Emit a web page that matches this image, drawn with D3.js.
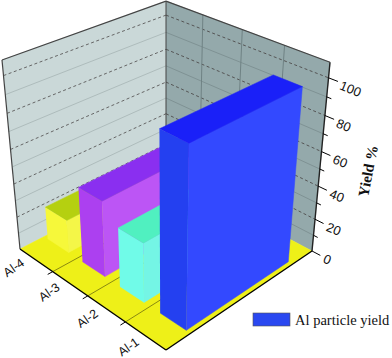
<!DOCTYPE html>
<html>
<head>
<meta charset="utf-8">
<script src="https://cdn.jsdelivr.net/npm/d3@7"></script>
<style>
html, body { margin: 0; padding: 0; background: #fff; }
svg { display: block; }
</style>
</head>
<body>
<div id="chart"></div>
<script>
var categories = ["Al-1", "Al-2", "Al-3", "Al-4"];
var yieldValues = [100, 35, 45, 20];
var zMajorTicks = [0, 20, 40, 60, 80, 100];
var zMinorTicks = [10, 30, 50, 70, 90];
var depthTicks = [0.25, 0.5, 0.75];
var legendLabel = "Al particle yield";
var zTitle = "Yield %";

var barColors = {
    "Al-1": { left: "#2440f0", right: "#3349ff", top: "#1a20f8" },
    "Al-2": { left: "#70fbe8", right: "#74f5e5", top: "#50f0c0" },
    "Al-3": { left: "#ac40f0", right: "#bc55f5", top: "#8a2ff0" },
    "Al-4": { left: "#f6f83a", right: "#f4f648", top: "#b5d010" }
};

var w = 392;
var h = 358;
var svg = d3.select("#chart").append("svg").attr("width", w).attr("height", h);

// projection of the unit box (a = along categories, b = depth, z = up)
var pw = 0.154;
var front = [166, 350];
var aEnd = [20, 249];
var bEnd = [312, 251];
var wz = -0.1267;
var zVec = [-21.03, -225.7];
function project(a, b, z) {
    var d = 1 + pw * a + pw * b + wz * z;
    var px = front[0] + (aEnd[0] * (1 + pw) - front[0]) * a + (bEnd[0] * (1 + pw) - front[0]) * b + zVec[0] * z;
    var py = front[1] + (aEnd[1] * (1 + pw) - front[1]) * a + (bEnd[1] * (1 + pw) - front[1]) * b + zVec[1] * z;
    return [px / d, py / d];
}

var aScale = d3.scaleBand().domain(categories).range([0, 1]).paddingInner(0.39).paddingOuter(0.1);
var zScale = d3.scaleLinear().domain([0, 108]).range([0, 1]);
var barDepth = [0.15, 0.85];

function poly(points, fill, stroke) {
    svg.append("path")
        .attr("d", d3.line()(points))
        .attr("fill", fill)
        .attr("stroke", stroke || fill)
        .attr("stroke-width", stroke ? 1.2 : 0.5)
        .attr("stroke-linejoin", "round");
}
function seg(p, q, color, width, dash) {
    svg.append("line")
        .attr("x1", p[0]).attr("y1", p[1])
        .attr("x2", q[0]).attr("y2", q[1])
        .attr("stroke", color)
        .attr("stroke-width", width)
        .attr("stroke-dasharray", dash || null);
}

/** walls and floor */
poly([project(1, 0, 0), project(1, 1, 0), project(1, 1, 1), project(1, 0, 1)], "#cad8d8");
poly([project(1, 1, 0), project(0, 1, 0), project(0, 1, 1), project(1, 1, 1)], "#94a9ab");
poly([project(0, 0, 0), project(1, 0, 0), project(1, 1, 0), project(0, 1, 0)], "#eef018");

/** wall grid */
zMinorTicks.forEach(function (t) {
    var z = zScale(t);
    seg(project(1, 0, z), project(1, 1, z), "#aebcbc", 1);
    seg(project(1, 1, z), project(0, 1, z), "#7f9294", 1);
});
zMajorTicks.slice(1).forEach(function (t) {
    var z = zScale(t);
    seg(project(1, 0, z), project(1, 1, z), "#666", 1, "3 2.5");
    seg(project(1, 1, z), project(0, 1, z), "#555", 1, "3 2.5");
});
depthTicks.forEach(function (t) {
    seg(project(t, 1, 0), project(t, 1, 1), "#6f8284", 1);
    seg(project(t, 0, 0), project(t, 1, 0), "#8a8a10", 1);
});

/** wall outline */
seg(project(1, 0, 0), project(1, 0, 1), "#444", 1.2);
seg(project(1, 0, 1), project(1, 1, 1), "#444", 1.2);
seg(project(1, 1, 0), project(1, 1, 1), "#444", 1);
seg(project(1, 1, 1), project(0, 1, 1), "#444", 1.2);
seg(project(0, 1, 0), project(0, 1, 1), "#222", 1.4);

/** bars, far ones first */
categories.slice().reverse().forEach(function (cat) {
    var v = yieldValues[categories.indexOf(cat)];
    var a0 = aScale(cat);
    var a1 = a0 + aScale.bandwidth();
    var b0 = barDepth[0];
    var b1 = barDepth[1];
    var z = zScale(v);
    var c = barColors[cat];
    poly([project(a1, b0, 0), project(a0, b0, 0), project(a0, b0, z), project(a1, b0, z)], c.left);
    poly([project(a0, b0, 0), project(a0, b1, 0), project(a0, b1, z), project(a0, b0, z)], c.right);
    poly([project(a0, b0, z), project(a0, b1, z), project(a1, b1, z), project(a1, b0, z)], c.top);
});

/** category axis */
seg(project(0, 0, 0), project(1, 0, 0), "#000", 1.4);
seg(project(0, 0, 0), project(0, 1, 0), "#000", 1.4);
depthTicks.forEach(function (t) {
    seg(project(t, 0, 0), project(t, -0.03, 0), "#000", 1);
});
categories.forEach(function (cat) {
    var p = project(aScale(cat) + aScale.bandwidth() / 2, 0, 0);
    svg.append("text")
        .attr("transform", "translate(" + (p[0] - 20) + "," + (p[1] + 9) + ") rotate(-35)")
        .attr("text-anchor", "middle")
        .attr("dy", "0.35em")
        .attr("font-family", "'Liberation Sans', Arial, sans-serif")
        .attr("font-size", 12.5)
        .attr("fill", "#111")
        .text(cat);
});

/** yield axis */
zMinorTicks.forEach(function (t) {
    seg(project(0, 1, zScale(t)), project(-0.025, 1, zScale(t)), "#000", 1);
});
zMajorTicks.forEach(function (t) {
    var z = zScale(t);
    seg(project(0, 1, z), project(-0.05, 1, z), "#000", 1);
    var p = project(0, 1, z);
    svg.append("text")
        .attr("transform", "translate(" + (p[0] + 12) + "," + (p[1] + 7) + ") rotate(22)")
        .attr("text-anchor", "start")
        .attr("dy", "0.35em")
        .attr("font-family", "'Liberation Sans', Arial, sans-serif")
        .attr("font-size", 13)
        .attr("fill", "#111")
        .text(t);
});
svg.append("text")
    .attr("transform", "translate(373,172) rotate(-79)")
    .attr("text-anchor", "middle")
    .attr("font-family", "'Liberation Serif', 'Times New Roman', serif")
    .attr("font-weight", "bold")
    .attr("font-size", 15)
    .attr("fill", "#111")
    .text(zTitle);

/** legend */
svg.append("rect")
    .attr("x", 253).attr("y", 313)
    .attr("width", 37).attr("height", 13)
    .attr("fill", "#2a48f0")
    .attr("stroke", "#555").attr("stroke-width", 0.6);
svg.append("text")
    .attr("x", 295).attr("y", 325)
    .attr("font-family", "'Liberation Serif', 'Times New Roman', serif")
    .attr("font-size", 14.5)
    .attr("fill", "#111")
    .text(legendLabel);
</script>
</body>
</html>
